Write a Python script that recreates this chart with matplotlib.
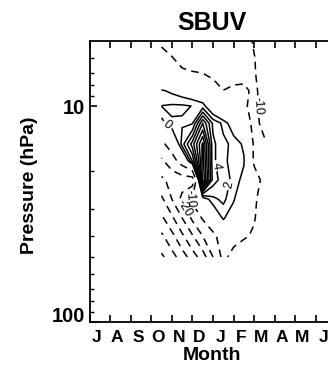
import matplotlib
matplotlib.use('Agg')
import matplotlib.pyplot as plt
import numpy as np
from matplotlib.ticker import FixedLocator, NullFormatter

# month axis: July .. June
months = ['J', 'A', 'S', 'O', 'N', 'D', 'J', 'F', 'M', 'A', 'M', 'J']

# grid of the field (time in months since 1 July, pressure in hPa)
t_grid = [3.5, 4.0, 4.5, 5.0, 5.5, 6.0, 6.5, 7.0, 7.5, 8.0, 8.5]
p_grid = [5, 6, 7, 8.5, 10, 12, 15, 18, 22, 27, 33, 40, 50]

# values, one row per pressure level
anom = [
    [-11, -14, -15, -16, -16, -16, -15, -14, -12, -9.5, -7],
    [-8, -9.5, -13, -15, -15, -15, -14, -13, -12, -10.2, -8],
    [-5, -7, -8.5, -9.5, -10.2, -12, -13, -12, -11.5, -10.3, -8],
    [0.3, -0.5, -1.5, -2.5, -3.5, -6, -9.9, -9, -9, -11, -8],
    [2.05, 2.3, 2.3, 1.95, 1, -3, -7, -8, -9.5, -11, -8.5],
    [-1, 1.8, 1.75, 1.8, 10, 3.5, 1.5, -2, -8, -11, -9],
    [-12, -6, 3, 9, 16.5, 4.5, 2.5, 1.5, -0.5, -11, -10.5],
    [-22, -14, -6, 4, 17, 4.5, 2.5, 1.2, 0.3, -11, -14],
    [-32, -27, -25, -25, 18, 5, 3, 1.5, -1, -7, -12],
    [-42, -30, -17, -8, -2, 1.5, 2.5, 0.5, -5, -9, -13],
    [-52, -42, -30, -18, -9, -4, 0.5, -3, -7, -9.5, -14],
    [-62, -53, -42, -31, -20, -12, -6, -6, -9, -11, -15],
    [-72, -64, -55, -45, -35, -20, -7, -14, -16, -18, -20],
]

neg_levels = [-70, -60, -50, -40, -30, -20, -10]
pos_levels = [0, 2, 4, 6, 8, 10, 12, 14, 16]

# which contours carry a label, and near where
label_spots = {0: [(3.8, 12.2)], 2: [(6.6, 22.9)], 4: [(6.1, 18.9)],
               -10: [(8.2, 10.0), (4.8, 26.5)], -20: [(4.4, 30.5)]}

plt.rcParams['font.family'] = ['Liberation Sans', 'DejaVu Sans']
plt.rcParams['lines.dashed_pattern'] = [5, 3.5]

fig = plt.figure(figsize=(3.28, 3.72), dpi=100)
ax = fig.add_axes([0.2729, 0.1344, 0.753, 0.7554])
ax.set_yscale('log')
ax.set_xlim(0, 12)
ax.set_ylim(100, 5)

z = np.array(anom)
for lev in neg_levels + pos_levels:
    ls = 'dashed' if lev < 0 else 'solid'
    cs = ax.contour(t_grid, p_grid, z, levels=[lev], colors='k',
                    linewidths=1.1, linestyles=ls)
    if lev in label_spots:
        cs.clabel(manual=label_spots[lev], fmt='%d', fontsize=9,
                  inline=True, inline_spacing=2)

ax.set_xlim(0, 12)
ax.set_ylim(100, 5)

ax.set_xticks(range(13))
ax.set_xticklabels([])
ax.set_xticks(np.arange(12) + 0.35, minor=True)
ax.set_xticklabels(months, minor=True, fontsize=12.5, fontweight='bold')
ax.tick_params(axis='x', which='major', direction='in', length=5, width=1.2, top=True)
ax.tick_params(axis='x', which='minor', length=0, pad=6)

ax.set_yticks([10, 100])
ax.set_yticklabels(['10', '100'], fontsize=14.5, fontweight='bold')
ax.yaxis.set_minor_locator(FixedLocator([6, 7, 8, 9, 20, 30, 40, 50, 60, 70, 80, 90]))
ax.yaxis.set_minor_formatter(NullFormatter())
ax.tick_params(axis='y', which='major', direction='in', length=5, width=1.2, pad=3)
ax.tick_params(axis='y', which='minor', direction='in', length=3, width=1.0)
for lab in ax.get_yticklabels():
    if lab.get_text() == '100':
        lab.set_verticalalignment('baseline')

for sp in ax.spines.values():
    sp.set_linewidth(1.3)

fig.text(212 / 328, 1 - 23.5 / 372, 'SBUV', ha='center', va='center',
         fontsize=18, fontweight='bold')
fig.text(212 / 328, 1 - 356 / 372, 'Month', ha='center', va='center',
         fontsize=14, fontweight='bold')
fig.text(30 / 328, 1 - 185 / 372, 'Pressure (hPa)', ha='center', va='center',
         rotation=90, fontsize=14, fontweight='bold')

fig.savefig('out.png', dpi=100)
